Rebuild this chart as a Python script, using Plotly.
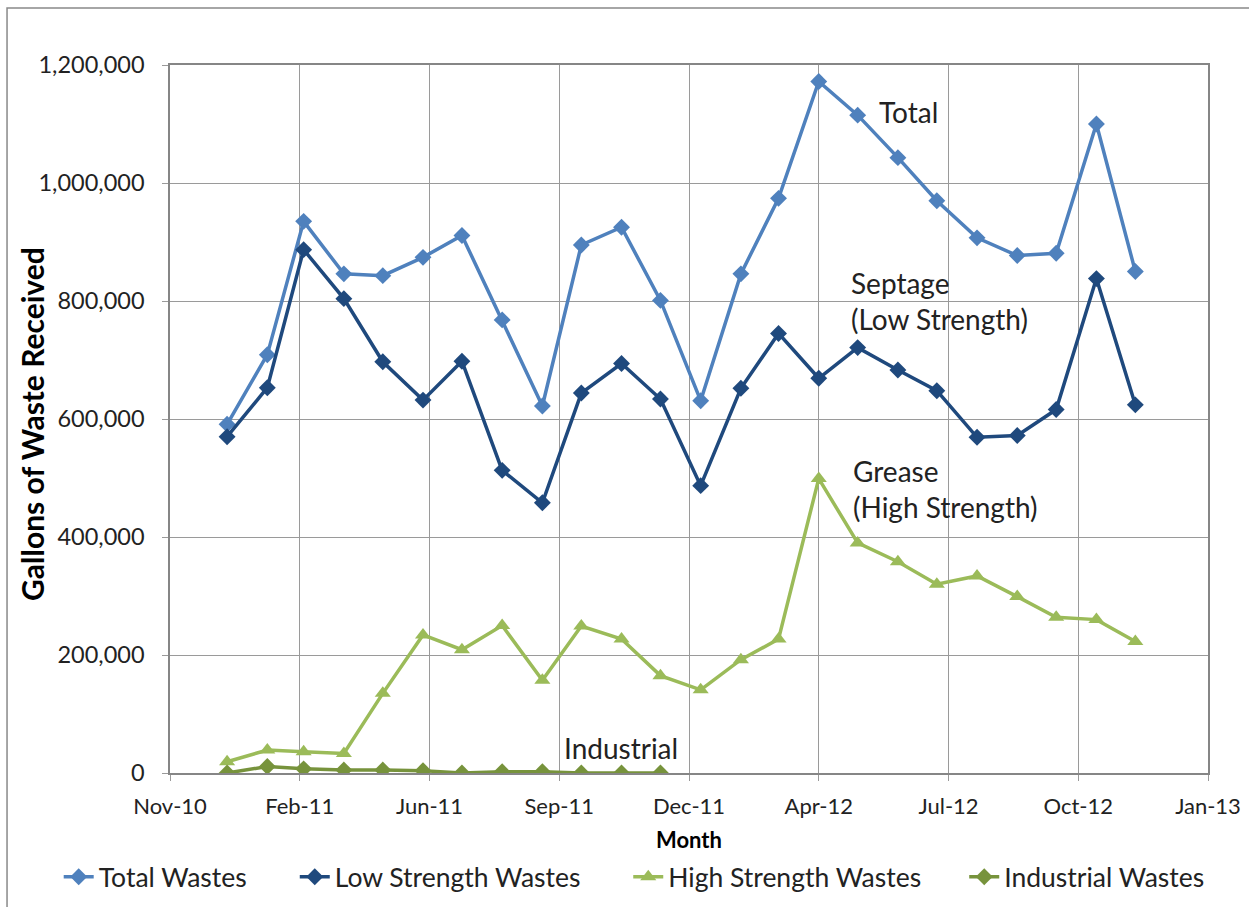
import plotly.graph_objects as go
import pandas as pd

months = ["2011-01-01", "2011-02-01", "2011-03-01", "2011-04-01", "2011-05-01", "2011-06-01",
          "2011-07-01", "2011-08-01", "2011-09-01", "2011-10-01", "2011-11-01", "2011-12-01",
          "2012-01-01", "2012-02-01", "2012-03-01", "2012-04-01", "2012-05-01", "2012-06-01",
          "2012-07-01", "2012-08-01", "2012-09-01", "2012-10-01", "2012-11-01", "2012-12-01"]

total_wastes = [591000, 709000, 935000, 846000, 843000, 874000, 911000, 768000, 622000, 895000, 925000, 801000,
                631000, 846000, 974000, 1172000, 1115000, 1043000, 970000, 907000, 877000, 881000, 1100000, 850000]
low_strength = [570000, 653000, 887000, 804000, 697000, 632000, 698000, 513000, 458000, 644000, 694000, 634000,
                487000, 652000, 745000, 669000, 721000, 683000, 648000, 569000, 572000, 616000, 838000, 624000]
high_strength = [19000, 39000, 36000, 33000, 135000, 234000, 209000, 250000, 157000, 249000, 227000, 165000,
                 141000, 192000, 227000, 499000, 390000, 358000, 320000, 334000, 299000, 264000, 260000, 223000]
industrial = [0, 11000, 7000, 5000, 5000, 4000, 0, 2000, 2000, 0, 0, 0]

series_names = ["Total Wastes", "Low Strength Wastes", "High Strength Wastes", "Industrial Wastes"]

tick_labels = ["Nov-10", "Feb-11", "Jun-11", "Sep-11", "Dec-11", "Apr-12", "Jul-12", "Oct-12", "Jan-13"]
axis_min = pd.Timestamp("2010-11-18")
major_unit_days = 100
tick_vals = [axis_min + pd.Timedelta(days=major_unit_days * k) for k in range(len(tick_labels))]
axis_max = tick_vals[-1]

FONT = "Lato, Open Sans, sans-serif"
GRID = "#9a9a9a"
TXT = "#222222"

styles = [
    dict(color="#4F81BD", symbol="diamond", size=13),
    dict(color="#1F497D", symbol="diamond", size=13),
    dict(color="#9BBB59", symbol="triangle-up", size=14),
    dict(color="#77933C", symbol="diamond", size=13),
]
series_values = [total_wastes, low_strength, high_strength, industrial]
legend_ids = ["legend", "legend2", "legend3", "legend4"]
legend_x = [0.047, 0.236, 0.503, 0.772]  # container fractions for each legend entry

fig = go.Figure()
for name, vals, st, lid in zip(series_names, series_values, styles, legend_ids):
    fig.add_trace(go.Scatter(x=months[:len(vals)], y=vals, name=name, mode="lines+markers",
                             line=dict(color=st["color"], width=3.5),
                             marker=dict(symbol=st["symbol"], size=st["size"], color=st["color"]),
                             legend=lid))

ann_font = dict(family=FONT, size=28, color=TXT)
annotations = [
    dict(text="Total", x=0.681, y=0.934),
    dict(text="Septage<br>(Low Strength)", x=0.654, y=0.667),
    dict(text="Grease<br>(High Strength)", x=0.656, y=0.401),
    dict(text="Industrial", x=0.378, y=0.035),
]
for a in annotations:
    fig.add_annotation(text=a["text"], x=a["x"], y=a["y"], xref="paper", yref="paper",
                       xanchor="left", yanchor="middle", align="left", showarrow=False, font=ann_font)

fig.add_annotation(text="<b>Gallons of Waste Received</b>", x=-0.133, y=0.493, xref="paper", yref="paper",
                   xanchor="center", yanchor="middle", textangle=-90, showarrow=False,
                   font=dict(family=FONT, size=30, color="#000000"))

fig.add_shape(type="rect", xref="paper", yref="paper", x0=-0.157, y0=-0.4, x1=1.2, y1=1.0805,
              line=dict(color="#898989", width=1.5), fillcolor="rgba(0,0,0,0)", layer="below")

legend_common = dict(orientation="h", xref="container", yref="container", xanchor="left",
                     y=0.033, yanchor="middle", font=dict(family=FONT, size=26.5, color=TXT),
                     itemwidth=30, bgcolor="rgba(0,0,0,0)")
legend_layout = {lid: dict(legend_common, x=lx) for lid, lx in zip(legend_ids, legend_x)}

fig.update_layout(
    width=1249, height=907,
    margin=dict(l=170, r=41, t=65, b=134, autoexpand=False),
    paper_bgcolor="white", plot_bgcolor="white",
    font=dict(family=FONT, size=20, color=TXT),
    showlegend=True,
    xaxis=dict(type="date", range=[axis_min, axis_max], tickvals=tick_vals, ticktext=tick_labels,
               showgrid=True, gridcolor=GRID, gridwidth=1, showline=True, linecolor="#868686", linewidth=1.5,
               mirror=True, ticks="outside", ticklen=6, tickcolor=GRID, ticklabelstandoff=7,
               tickfont=dict(family=FONT, size=22, color=TXT), automargin=True,
               title=dict(text="<b>Month</b>", font=dict(family=FONT, size=22, color="#000000"), standoff=14),
               zeroline=False),
    yaxis=dict(range=[0, 1200000], dtick=200000, tickformat=",d",
               showgrid=True, gridcolor=GRID, gridwidth=1, showline=True, linecolor="#868686", linewidth=1.5,
               mirror=True, ticks="outside", ticklen=6, tickcolor=GRID, ticklabelstandoff=13,
               tickfont=dict(family=FONT, size=23.5, color=TXT), automargin=True,
               zeroline=False),
    **legend_layout,
)

fig.write_html("out.html", config={"displayModeBar": False},
               post_script="document.body.style.margin='0';")
